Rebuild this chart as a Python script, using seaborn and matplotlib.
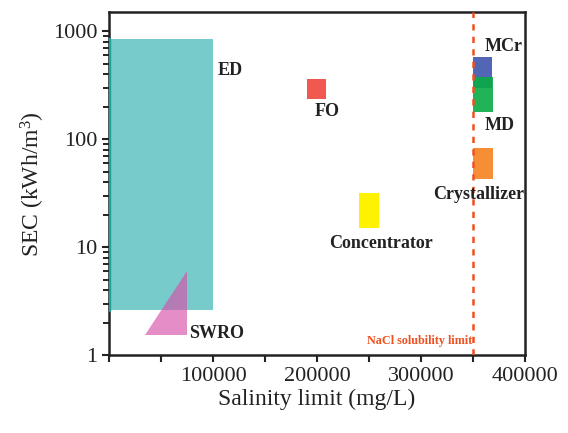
import matplotlib
matplotlib.use('Agg')
import matplotlib.pyplot as plt
from matplotlib.ticker import FixedLocator, NullFormatter
import seaborn as sns

# process windows: salinity range (mg/L) and SEC range (kWh/m3)
processes = ['ED', 'FO', 'Concentrator', 'Crystallizer', 'MCr', 'MD']
sal_low = [0, 190000, 240000, 350000, 350000, 350000]
sal_high = [100000, 209000, 260000, 369000, 368000, 369000]
sec_low = [2.6, 235, 15, 43, 300, 178]
sec_high = [850, 360, 32, 83, 575, 375]
box_colors = ['#5fc4c2', '#f0463c', '#fff200', '#f58220', '#3f55ad', '#0aab45']
box_alpha = [0.85, 0.9, 1.0, 0.9, 0.9, 0.9]

# SWRO triangle
swro_sal = [35000, 75000, 75000]
swro_sec = [1.55, 1.55, 6.0]

nacl_limit = 350000

# label positions (data coords)
label_text = ['ED', 'FO', 'Concentrator', 'Crystallizer', 'MCr', 'MD', 'SWRO']
label_x = [104000, 198000, 212000, 312000, 361000, 361000, 77000]
label_y = [430, 180, 10.8, 31, 720, 133, 1.58]

y_major = [1, 10, 100, 1000]
y_minor = [m * d for d in [1, 10, 100] for m in range(2, 10)]

sns.set_theme(style='ticks')
plt.rcParams['font.family'] = ['Liberation Serif', 'DejaVu Serif']
plt.rcParams['mathtext.fontset'] = 'custom'
plt.rcParams['mathtext.rm'] = 'Liberation Serif'
plt.rcParams['mathtext.it'] = 'Liberation Serif:italic'

fig = plt.figure(figsize=(5.68, 4.33), dpi=100)
ax = fig.add_axes([0.192, 0.180, 0.732, 0.792])

for i, name in enumerate(processes):
    ax.fill_between([sal_low[i], sal_high[i]], sec_low[i], sec_high[i],
                    color=box_colors[i], alpha=box_alpha[i], linewidth=0, zorder=2)
ax.plot([0, 0], [sec_low[0], sec_high[0]], color='#1aa5a0', linewidth=2.5, zorder=3)
ax.fill(swro_sal, swro_sec, color='#d850a8', alpha=0.65, linewidth=0, zorder=3)

ax.axvline(nacl_limit, color='#f05020', linestyle=(0, (2.5, 2.5)), linewidth=1.8, zorder=4)
ax.text(nacl_limit - 1000, 1.2, 'NaCl solubility limit', color='#f05020',
        fontsize=8.7, fontweight='bold', ha='right', va='bottom')

for txt, x, y in zip(label_text, label_x, label_y):
    ax.text(x, y, txt, fontsize=13, fontweight='bold', color='#222222',
            ha='left', va='center', zorder=5)

ax.set_yscale('log')
ax.set_xlim(0, 400000)
ax.set_ylim(1, 1500)
ax.set_xticks([100000, 200000, 300000, 400000])
ax.set_xticks([0, 50000, 150000, 250000, 350000], minor=True)
ax.yaxis.set_major_locator(FixedLocator(y_major))
ax.set_yticklabels([str(v) for v in y_major])
ax.yaxis.set_minor_locator(FixedLocator(y_minor))
ax.yaxis.set_minor_formatter(NullFormatter())
ax.tick_params(axis='both', which='major', labelsize=16, length=5, width=1.5,
               direction='out', colors='#222222')
ax.tick_params(axis='y', which='minor', left=True, length=4, width=1.4,
               direction='out', color='#222222')
ax.tick_params(axis='x', which='minor', bottom=True, length=5, width=1.5, color='#222222')

ax.set_xlabel('Salinity limit (mg/L)', fontsize=17, color='#222222', labelpad=2)
ax.set_ylabel('SEC (kWh/m$^3$)', fontsize=17, color='#222222', labelpad=4)
for spine in ax.spines.values():
    spine.set_linewidth(1.8)
    spine.set_color('#222222')

fig.savefig('out.png', dpi=100)
